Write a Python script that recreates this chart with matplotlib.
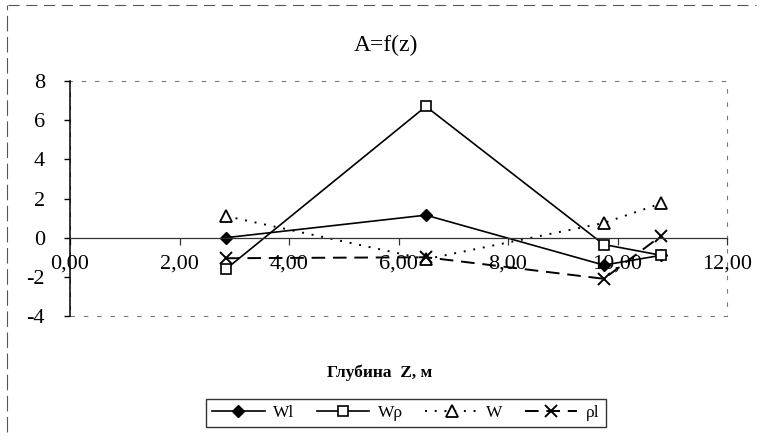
import numpy as np
import matplotlib.pyplot as plt
from matplotlib.patches import Rectangle
from matplotlib.lines import Line2D

plt.rcParams['font.family'] = ['Liberation Serif', 'DejaVu Serif']

# depth, m
z = [2.85, 6.5, 9.75, 10.8]

# series
wl = [0.0, 1.15, -1.4, -0.9]
wp = [-1.6, 6.7, -0.35, -0.9]
w = [1.1, -1.1, 0.75, 1.75]
pl = [-1.05, -1.0, -2.1, 0.1]

labels = ['Wl', 'Wρ', 'W', 'ρl']
x_ticks = [0, 2, 4, 6, 8, 10, 12]
y_ticks = [-4, -2, 0, 2, 4, 6, 8]

fig = plt.figure(figsize=(7.64, 4.41), dpi=100)
ax = fig.add_axes([70 / 764, 1 - 316 / 441, 657 / 764, 235 / 441])

ax.plot(z, wl, color='black', lw=1.2, marker='D', markersize=6,
        markerfacecolor='black', label=labels[0])
ax.plot(z, wp, color='black', lw=1.2, marker='s', markersize=7,
        markerfacecolor='white', markeredgewidth=1.2, label=labels[1])
ax.plot(z, w, color='black', lw=1.4, linestyle=(0, (1, 4)), marker='^',
        markersize=8, markerfacecolor='white', markeredgewidth=1.3, label=labels[2])
ax.plot(z, pl, color='black', lw=1.4, linestyle=(0, (7, 4)), marker='x',
        markersize=9, markeredgewidth=1.4, label=labels[3])

ax.set_xlim(0, 12)
ax.set_ylim(-4, 8)
ax.set_xticks(x_ticks)
ax.set_xticklabels([f'{t:.2f}'.replace('.', ',') for t in x_ticks])
ax.set_yticks(y_ticks)
ax.set_yticklabels([str(t) for t in y_ticks])

# excel-like axes: category axis crossing at zero
ax.spines['bottom'].set_position(('data', 0))
ax.spines['bottom'].set_color('#333333')
ax.spines['bottom'].set_linewidth(0.9)
ax.spines['left'].set_linewidth(1.1)
ax.spines['top'].set_visible(False)
ax.spines['right'].set_visible(False)
ax.tick_params(axis='x', direction='out', length=5, width=0.9, pad=7,
               labelsize=16, color='#333333')
ax.tick_params(axis='y', direction='out', length=4, width=1.0, pad=14,
               labelsize=16)

# plot area border
ax.add_patch(Rectangle((0, 0), 1, 1, transform=ax.transAxes, fill=False,
                       edgecolor='#777777', lw=0.8, linestyle=(0, (4, 8)),
                       clip_on=False, zorder=0))

fig.text(386 / 764, 1 - 45 / 441, 'A=f(z)', ha='center', va='center', fontsize=17)
fig.text(380 / 764, 1 - 373 / 441, 'Глубина  Z, м', ha='center', va='center',
         fontsize=12.5, fontweight='bold')

leg = fig.legend(loc='center', bbox_to_anchor=(406 / 764, 1 - 413 / 441),
                 ncol=4, fontsize=12.5, frameon=True, fancybox=False,
                 edgecolor='black', handlelength=3.0, columnspacing=1.3,
                 handletextpad=0.5, borderpad=0.35, borderaxespad=0)
leg.get_frame().set_linewidth(1.0)

# outer chart border (top and left are visible in the scan)
fig.add_artist(Line2D([0.01, 0.99], [1 - 5 / 441, 1 - 5 / 441], color='#555555',
                      lw=0.8, linestyle=(0, (10, 6))))
fig.add_artist(Line2D([7 / 764, 7 / 764], [0.02, 1 - 5 / 441], color='#555555',
                      lw=0.8, linestyle=(0, (14, 5))))

fig.savefig('out.png', dpi=100)
